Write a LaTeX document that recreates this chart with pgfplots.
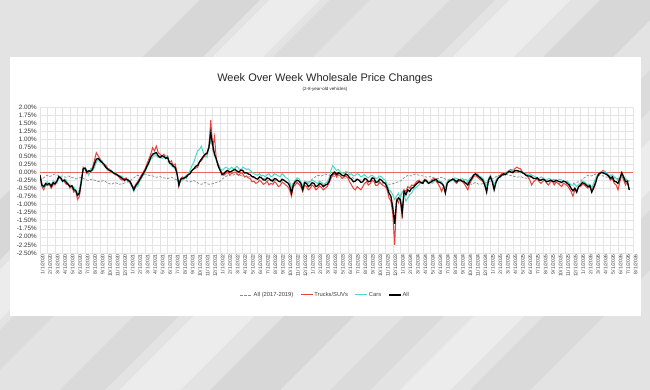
\documentclass[border=0pt]{standalone}
\usepackage{pgfplots}
\pgfplotsset{compat=1.18}
\usepackage{pgfplotstable}
\usepackage{fontspec}
\setmainfont{Liberation Sans}

\definecolor{truckc}{HTML}{E8413A}
\definecolor{carc}{HTML}{4FD8C8}
\definecolor{histc}{HTML}{8A8A8A}
\definecolor{gridc}{HTML}{E4E4E4}
\newcommand{\lgtxt}[1]{\textcolor{black!75}{#1}}

% weekly wholesale price change, % (m = months since 1/1/2020)
\pgfplotstableread{
m avg trucks cars all
0.0 -0.28 -0.12 -0.08 -0.10
0.25 -0.22 -0.45 -0.35 -0.40
0.5 -0.18 -0.55 -0.50 -0.45
0.75 -0.12 -0.40 -0.32 -0.36
1.0 -0.10 -0.42 -0.30 -0.38
1.25 -0.14 -0.38 -0.42 -0.35
1.5 -0.12 -0.50 -0.40 -0.44
1.75 -0.08 -0.38 -0.28 -0.33
2.0 -0.06 -0.40 -0.30 -0.36
2.25 -0.09 -0.30 -0.35 -0.28
2.5 -0.10 -0.12 -0.20 -0.15
2.75 -0.13 -0.20 -0.15 -0.18
3.0 -0.12 -0.25 -0.30 -0.28
3.25 -0.15 -0.30 -0.22 -0.25
3.5 -0.16 -0.38 -0.25 -0.32
3.75 -0.12 -0.35 -0.40 -0.38
4.0 -0.14 -0.50 -0.40 -0.45
4.25 -0.17 -0.45 -0.50 -0.42
4.5 -0.18 -0.62 -0.45 -0.55
4.75 -0.21 -0.58 -0.62 -0.56
5.0 -0.20 -0.85 -0.68 -0.72
5.25 -0.18 -0.75 -0.55 -0.65
5.5 -0.16 -0.35 -0.20 -0.30
5.75 -0.20 0.15 0.05 0.10
6.0 -0.22 0.10 0.15 0.12
6.25 -0.25 -0.05 0.05 0.00
6.5 -0.26 0.00 -0.10 0.04
6.75 -0.23 0.05 0.10 0.02
7.0 -0.22 0.15 0.05 0.08
7.25 -0.25 0.35 0.15 0.25
7.5 -0.27 0.60 0.30 0.40
7.75 -0.29 0.50 0.40 0.42
8.0 -0.30 0.40 0.30 0.36
8.25 -0.28 0.30 0.35 0.30
8.5 -0.26 0.20 0.20 0.25
8.75 -0.30 0.22 0.15 0.15
9.0 -0.33 0.12 0.05 0.10
9.25 -0.36 0.05 0.10 0.05
9.5 -0.38 0.00 0.05 0.03
9.75 -0.35 -0.02 -0.05 -0.02
10.0 -0.32 -0.08 0.00 -0.05
10.25 -0.35 -0.10 -0.08 -0.08
10.5 -0.38 -0.15 -0.10 -0.12
10.75 -0.37 -0.22 -0.12 -0.16
11.0 -0.36 -0.25 -0.15 -0.20
11.25 -0.34 -0.20 -0.28 -0.25
11.5 -0.32 -0.18 -0.25 -0.22
11.75 -0.30 -0.30 -0.22 -0.25
12.0 -0.28 -0.28 -0.35 -0.30
12.25 -0.22 -0.40 -0.45 -0.42
12.5 -0.18 -0.50 -0.60 -0.55
12.75 -0.14 -0.38 -0.45 -0.42
13.0 -0.10 -0.30 -0.45 -0.35
13.25 -0.12 -0.20 -0.30 -0.25
13.5 -0.12 -0.10 -0.20 -0.15
13.75 -0.09 0.00 -0.10 -0.05
14.0 -0.06 0.10 0.00 0.05
14.25 -0.08 0.25 0.15 0.18
14.5 -0.10 0.40 0.25 0.30
14.75 -0.11 0.55 0.40 0.45
15.0 -0.12 0.75 0.45 0.55
15.25 -0.14 0.65 0.55 0.58
15.5 -0.16 0.80 0.50 0.60
15.75 -0.15 0.60 0.45 0.50
16.0 -0.14 0.55 0.50 0.45
16.25 -0.16 0.48 0.42 0.50
16.5 -0.18 0.55 0.45 0.48
16.75 -0.19 0.45 0.50 0.42
17.0 -0.20 0.50 0.45 0.45
17.25 -0.18 0.30 0.30 0.28
17.5 -0.16 0.35 0.20 0.25
17.75 -0.19 0.20 0.15 0.18
18.0 -0.22 0.25 0.10 0.15
18.25 -0.24 0.00 -0.05 -0.05
18.5 -0.26 -0.45 -0.35 -0.40
18.75 -0.24 -0.20 -0.28 -0.22
19.0 -0.22 -0.15 -0.25 -0.20
19.25 -0.25 -0.20 -0.15 -0.18
19.5 -0.27 -0.10 -0.20 -0.15
19.75 -0.29 -0.08 -0.05 -0.08
20.0 -0.30 0.00 0.05 -0.05
20.25 -0.28 0.05 0.20 0.05
20.5 -0.26 0.10 0.30 0.10
20.75 -0.30 0.12 0.50 0.18
21.0 -0.33 0.15 0.65 0.20
21.25 -0.36 0.30 0.70 0.32
21.5 -0.38 0.35 0.80 0.40
21.75 -0.35 0.45 0.60 0.48
22.0 -0.32 0.50 0.50 0.55
22.25 -0.35 0.60 0.45 0.58
22.5 -0.38 0.80 0.78 0.75
22.75 -0.37 1.60 0.95 1.20
23.0 -0.36 0.75 0.80 0.85
23.25 -0.34 1.10 0.50 0.55
23.5 -0.32 0.35 0.35 0.40
23.75 -0.30 0.25 0.20 0.18
24.0 -0.28 0.10 0.12 0.05
24.25 -0.22 -0.05 0.05 -0.08
24.5 -0.18 -0.10 0.10 -0.05
24.75 -0.14 -0.05 0.15 0.02
25.0 -0.10 0.00 0.12 0.05
25.25 -0.11 -0.08 0.08 0.00
25.5 -0.12 -0.05 0.15 0.02
25.75 -0.09 -0.02 0.10 0.06
26.0 -0.06 0.00 0.12 0.08
26.25 -0.08 -0.05 0.18 0.03
26.5 -0.10 -0.10 0.10 0.00
26.75 -0.11 -0.02 0.05 0.06
27.0 -0.12 -0.05 0.15 0.05
27.25 -0.14 -0.15 0.12 -0.03
27.5 -0.16 -0.12 0.08 -0.02
27.75 -0.15 -0.18 0.10 -0.06
28.0 -0.14 -0.20 0.05 -0.08
28.25 -0.16 -0.30 0.00 -0.14
28.5 -0.18 -0.28 -0.05 -0.15
28.75 -0.19 -0.35 -0.08 -0.20
29.0 -0.20 -0.32 -0.10 -0.22
29.25 -0.18 -0.25 -0.05 -0.15
29.5 -0.16 -0.30 -0.12 -0.18
29.75 -0.19 -0.38 -0.10 -0.24
30.0 -0.22 -0.35 -0.15 -0.25
30.25 -0.24 -0.28 -0.08 -0.18
30.5 -0.26 -0.40 -0.05 -0.20
30.75 -0.24 -0.35 -0.15 -0.26
31.0 -0.22 -0.38 -0.12 -0.28
31.25 -0.25 -0.30 -0.05 -0.20
31.5 -0.27 -0.35 -0.08 -0.22
31.75 -0.29 -0.45 -0.12 -0.28
32.0 -0.30 -0.42 -0.15 -0.30
32.25 -0.28 -0.32 -0.05 -0.22
32.5 -0.26 -0.35 -0.10 -0.25
32.75 -0.30 -0.40 -0.18 -0.30
33.0 -0.33 -0.45 -0.20 -0.33
33.25 -0.36 -0.55 -0.30 -0.42
33.5 -0.38 -0.75 -0.50 -0.65
33.75 -0.35 -0.45 -0.35 -0.40
34.0 -0.32 -0.40 -0.25 -0.30
34.25 -0.35 -0.32 -0.18 -0.25
34.5 -0.38 -0.38 -0.20 -0.28
34.75 -0.37 -0.45 -0.30 -0.35
35.0 -0.36 -0.60 -0.45 -0.55
35.25 -0.34 -0.40 -0.28 -0.33
35.5 -0.32 -0.45 -0.30 -0.35
35.75 -0.30 -0.55 -0.35 -0.45
36.0 -0.28 -0.50 -0.30 -0.40
36.25 -0.22 -0.40 -0.25 -0.33
36.5 -0.18 -0.45 -0.28 -0.35
36.75 -0.14 -0.55 -0.32 -0.45
37.0 -0.10 -0.50 -0.35 -0.42
37.25 -0.11 -0.42 -0.28 -0.35
37.5 -0.12 -0.48 -0.32 -0.38
37.75 -0.09 -0.55 -0.38 -0.45
38.0 -0.06 -0.50 -0.35 -0.40
38.25 -0.08 -0.45 -0.30 -0.38
38.5 -0.10 -0.35 -0.20 -0.30
38.75 -0.11 -0.20 0.05 -0.12
39.0 -0.12 -0.10 0.20 -0.05
39.25 -0.14 -0.05 0.12 0.00
39.5 -0.16 -0.15 0.05 -0.08
39.75 -0.15 -0.08 0.08 -0.02
40.0 -0.14 -0.12 0.00 -0.05
40.25 -0.16 -0.20 -0.02 -0.10
40.5 -0.18 -0.15 -0.05 -0.12
40.75 -0.19 -0.12 0.02 -0.06
41.0 -0.20 -0.18 0.00 -0.10
41.25 -0.18 -0.30 -0.08 -0.18
41.5 -0.16 -0.40 -0.05 -0.22
41.75 -0.19 -0.50 -0.12 -0.30
42.0 -0.22 -0.55 -0.10 -0.28
42.25 -0.24 -0.45 -0.05 -0.22
42.5 -0.26 -0.50 -0.08 -0.25
42.75 -0.24 -0.55 -0.15 -0.32
43.0 -0.22 -0.45 -0.12 -0.30
43.25 -0.25 -0.35 -0.08 -0.20
43.5 -0.27 -0.30 -0.15 -0.22
43.75 -0.29 -0.40 -0.18 -0.30
44.0 -0.30 -0.35 -0.12 -0.28
44.25 -0.28 -0.25 -0.10 -0.18
44.5 -0.26 -0.30 -0.15 -0.20
44.75 -0.30 -0.42 -0.20 -0.32
45.0 -0.33 -0.40 -0.18 -0.30
45.25 -0.36 -0.30 -0.12 -0.22
45.5 -0.38 -0.38 -0.15 -0.25
45.75 -0.35 -0.42 -0.22 -0.32
46.0 -0.32 -0.45 -0.25 -0.35
46.25 -0.35 -0.55 -0.40 -0.48
46.5 -0.38 -0.80 -0.55 -0.65
46.75 -0.37 -0.90 -0.60 -0.75
47.0 -0.36 -1.30 -0.70 -1.10
47.25 -0.34 -2.25 -0.85 -1.60
47.5 -0.32 -0.85 -0.75 -0.90
47.75 -0.30 -0.95 -0.65 -0.80
48.0 -0.28 -0.75 -0.80 -0.85
48.25 -0.23 -1.45 -0.60 -1.25
48.5 -0.18 -0.55 -0.70 -0.60
48.75 -0.14 -0.60 -0.90 -0.70
49.0 -0.10 -0.45 -0.80 -0.55
49.25 -0.11 -0.50 -0.70 -0.60
49.5 -0.12 -0.40 -0.65 -0.50
49.75 -0.09 -0.42 -0.55 -0.48
50.0 -0.06 -0.35 -0.50 -0.40
50.25 -0.08 -0.28 -0.45 -0.35
50.5 -0.10 -0.25 -0.40 -0.30
50.75 -0.11 -0.35 -0.30 -0.32
51.0 -0.12 -0.30 -0.35 -0.35
51.25 -0.14 -0.22 -0.25 -0.25
51.5 -0.16 -0.25 -0.30 -0.28
51.75 -0.15 -0.35 -0.32 -0.35
52.0 -0.14 -0.30 -0.28 -0.32
52.25 -0.16 -0.22 -0.35 -0.28
52.5 -0.18 -0.20 -0.30 -0.25
52.75 -0.19 -0.28 -0.22 -0.22
53.0 -0.20 -0.35 -0.25 -0.30
53.25 -0.18 -0.45 -0.28 -0.32
53.5 -0.16 -0.60 -0.30 -0.35
53.75 -0.19 -0.45 -0.40 -0.42
54.0 -0.22 -0.50 -0.55 -0.65
54.25 -0.24 -0.35 -0.30 -0.35
54.5 -0.26 -0.30 -0.22 -0.28
54.75 -0.24 -0.25 -0.28 -0.25
55.0 -0.22 -0.20 -0.25 -0.22
55.25 -0.25 -0.30 -0.18 -0.25
55.5 -0.27 -0.35 -0.20 -0.30
55.75 -0.29 -0.28 -0.22 -0.24
56.0 -0.30 -0.22 -0.28 -0.25
56.25 -0.28 -0.30 -0.20 -0.28
56.5 -0.26 -0.35 -0.25 -0.30
56.75 -0.30 -0.45 -0.22 -0.35
57.0 -0.33 -0.55 -0.30 -0.40
57.25 -0.36 -0.35 -0.20 -0.28
57.5 -0.38 -0.25 -0.15 -0.20
57.75 -0.35 -0.15 -0.08 -0.10
58.0 -0.32 -0.10 -0.10 -0.05
58.25 -0.35 -0.15 -0.05 -0.10
58.5 -0.38 -0.20 -0.12 -0.15
58.75 -0.37 -0.25 -0.15 -0.20
59.0 -0.36 -0.30 -0.20 -0.25
59.25 -0.34 -0.40 -0.30 -0.40
59.5 -0.32 -0.55 -0.45 -0.62
59.75 -0.30 -0.25 -0.20 -0.25
60.0 -0.28 -0.15 -0.10 -0.15
60.25 -0.22 -0.25 -0.22 -0.30
60.5 -0.18 -0.45 -0.40 -0.55
60.75 -0.14 -0.30 -0.25 -0.32
61.0 -0.10 -0.20 -0.15 -0.20
61.25 -0.11 -0.12 -0.18 -0.15
61.5 -0.12 -0.05 -0.12 -0.10
61.75 -0.09 -0.10 -0.02 -0.05
62.0 -0.06 -0.05 -0.05 -0.08
62.25 -0.08 0.00 0.02 -0.02
62.5 -0.10 0.05 0.00 0.02
62.75 -0.11 0.08 0.05 0.00
63.0 -0.12 0.00 0.08 -0.02
63.25 -0.14 0.10 0.05 0.04
63.5 -0.16 0.15 0.00 0.05
63.75 -0.15 0.12 0.03 0.03
64.0 -0.14 0.10 -0.02 0.02
64.25 -0.16 0.02 0.00 -0.02
64.5 -0.18 -0.05 -0.02 -0.05
64.75 -0.19 -0.10 -0.05 -0.10
65.0 -0.20 -0.15 -0.08 -0.12
65.25 -0.18 -0.25 -0.05 -0.12
65.5 -0.16 -0.40 -0.10 -0.15
65.75 -0.19 -0.30 -0.12 -0.20
66.0 -0.22 -0.25 -0.15 -0.20
66.25 -0.24 -0.20 -0.18 -0.18
66.5 -0.26 -0.30 -0.20 -0.25
66.75 -0.24 -0.35 -0.15 -0.25
67.0 -0.22 -0.28 -0.18 -0.22
67.25 -0.25 -0.25 -0.22 -0.25
67.5 -0.27 -0.35 -0.25 -0.30
67.75 -0.29 -0.40 -0.20 -0.28
68.0 -0.30 -0.30 -0.22 -0.25
68.25 -0.28 -0.28 -0.25 -0.28
68.5 -0.26 -0.40 -0.22 -0.30
68.75 -0.30 -0.30 -0.28 -0.25
69.0 -0.33 -0.35 -0.25 -0.28
69.25 -0.36 -0.40 -0.22 -0.30
69.5 -0.38 -0.45 -0.25 -0.32
69.75 -0.35 -0.35 -0.28 -0.28
70.0 -0.32 -0.38 -0.30 -0.30
70.25 -0.35 -0.42 -0.28 -0.35
70.5 -0.38 -0.50 -0.35 -0.40
70.75 -0.37 -0.60 -0.40 -0.50
71.0 -0.36 -0.75 -0.40 -0.58
71.25 -0.34 -0.55 -0.38 -0.50
71.5 -0.32 -0.60 -0.45 -0.62
71.75 -0.30 -0.45 -0.38 -0.45
72.0 -0.28 -0.45 -0.35 -0.40
72.25 -0.22 -0.38 -0.28 -0.33
72.5 -0.18 -0.40 -0.30 -0.35
72.75 -0.14 -0.45 -0.35 -0.40
73.0 -0.10 -0.50 -0.40 -0.45
73.25 -0.11 -0.45 -0.38 -0.42
73.5 -0.12 -0.55 -0.50 -0.62
73.75 -0.09 -0.45 -0.35 -0.50
74.0 -0.06 -0.30 -0.20 -0.35
74.25 -0.08 -0.10 -0.12 -0.15
74.5 -0.10 -0.02 -0.10 -0.05
74.75 -0.11 0.00 0.00 -0.02
75.0 -0.12 0.05 -0.05 -0.02
75.25 -0.14 0.02 0.02 -0.05
75.5 -0.16 -0.05 -0.02 -0.08
75.75 -0.15 -0.15 -0.08 -0.12
76.0 -0.14 -0.25 -0.12 -0.20
76.25 -0.16 -0.20 -0.08 -0.15
76.5 -0.18 -0.35 -0.15 -0.28
76.75 -0.19 -0.40 -0.20 -0.30
77.0 -0.20 -0.55 -0.25 -0.35
77.25 -0.18 -0.30 -0.20 -0.20
77.5 -0.16 -0.10 -0.15 -0.02
77.75 -0.19 -0.25 -0.15 -0.15
78.0 -0.22 -0.40 -0.20 -0.30
78.25 -0.24 -0.30 -0.25 -0.28
78.5 -0.26 -0.55 -0.30 -0.55
}\wwdata

\begin{document}
\begin{tikzpicture}[x=1pt,y=1pt]
% backdrop with soft diagonal bands
\fill[black!11] (0,0) rectangle (650,390);
\foreach \a/\w/\o in {-190/60/0.05, -60/40/0.03, 60/45/0.04, 210/70/0.05, 330/40/0.03, 470/60/0.04}
  \fill[black,opacity=\o] (\a,0) -- ++(\w,0) -- ++(390,390) -- ++(-\w,0) -- cycle;
\foreach \a/\w in {-120/50, 120/60, 400/50}
  \fill[white,opacity=0.35] (\a,0) -- ++(\w,0) -- ++(390,390) -- ++(-\w,0) -- cycle;
% card
\fill[white] (10,74) rectangle (641,333);
\node[text=black!85] at (325,311) {\fontsize{11}{11}\selectfont Week Over Week Wholesale Price Changes};
\node[text=black!85] at (325,301) {\fontsize{4.5}{4.5}\selectfont (2-8-year-old vehicles)};
\begin{axis}[
  at={(40pt,137pt)}, anchor=south west,
  scale only axis, width=593pt, height=145.7pt,
  xmin=0, xmax=79, ymin=-2.5, ymax=2,
  xtick={0,...,79},
  xticklabels={1/1/2020,2/1/2020,3/1/2020,4/1/2020,5/1/2020,6/1/2020,7/1/2020,8/1/2020,9/1/2020,10/1/2020,11/1/2020,12/1/2020,
    1/1/2021,2/1/2021,3/1/2021,4/1/2021,5/1/2021,6/1/2021,7/1/2021,8/1/2021,9/1/2021,10/1/2021,11/1/2021,12/1/2021,
    1/1/2022,2/1/2022,3/1/2022,4/1/2022,5/1/2022,6/1/2022,7/1/2022,8/1/2022,9/1/2022,10/1/2022,11/1/2022,12/1/2022,
    1/1/2023,2/1/2023,3/1/2023,4/1/2023,5/1/2023,6/1/2023,7/1/2023,8/1/2023,9/1/2023,10/1/2023,11/1/2023,12/1/2023,
    1/1/2024,2/1/2024,3/1/2024,4/1/2024,5/1/2024,6/1/2024,7/1/2024,8/1/2024,9/1/2024,10/1/2024,11/1/2024,12/1/2024,
    1/1/2025,2/1/2025,3/1/2025,4/1/2025,5/1/2025,6/1/2025,7/1/2025,8/1/2025,9/1/2025,10/1/2025,11/1/2025,12/1/2025,
    1/1/2026,2/1/2026,3/1/2026,4/1/2026,5/1/2026,6/1/2026,7/1/2026,8/1/2026},
  ytick={-2.5,-2.25,-2,-1.75,-1.5,-1.25,-1,-0.75,-0.5,-0.25,0,0.25,0.5,0.75,1,1.25,1.5,1.75,2},
  yticklabel={\pgfmathprintnumber[fixed,fixed zerofill,precision=2]{\tick}\%},
  /pgf/number format/assume math mode=true,
  grid=major, major grid style={gridc, line width=0.4pt},
  axis line style={draw=none}, major tick length=0pt,
  yticklabel style={font=\fontsize{6.3}{6.3}\selectfont, text=black!80, inner sep=1pt, xshift=-2pt},
  xticklabel style={rotate=90, anchor=east, font=\fontsize{5.1}{5.1}\selectfont, text=black!75, inner sep=1pt, yshift=-2.5pt},
  legend columns=4,
  legend style={at={(rel axis cs:0.4806,-0.288)}, anchor=center, draw=none, fill=none,
    font=\fontsize{5.8}{5.8}\selectfont,
    /tikz/every even column/.append style={column sep=6pt}, nodes={inner sep=1pt}},
  legend image code/.code={\draw[#1] (0pt,0pt) -- (12pt,0pt);},
]
\addplot[truckc!80, line width=0.5pt, forget plot] coordinates {(0,0) (79,0)};
\addplot[histc, dash pattern=on 2.5pt off 1.5pt, line width=0.7pt] table[x=m, y=avg] {\wwdata};
\addlegendentry{\lgtxt{All (2017-2019)}}
\addplot[truckc, line width=1pt] table[x=m, y=trucks] {\wwdata};
\addlegendentry{\lgtxt{Trucks/SUVs}}
\addplot[carc, line width=1pt] table[x=m, y=cars] {\wwdata};
\addlegendentry{\lgtxt{Cars}}
\addplot[black, line width=1.3pt] table[x=m, y=all] {\wwdata};
\addlegendentry{\lgtxt{All}}
\end{axis}
\pgfresetboundingbox
\path (0,0) rectangle (650,390);
\end{tikzpicture}
\end{document}
